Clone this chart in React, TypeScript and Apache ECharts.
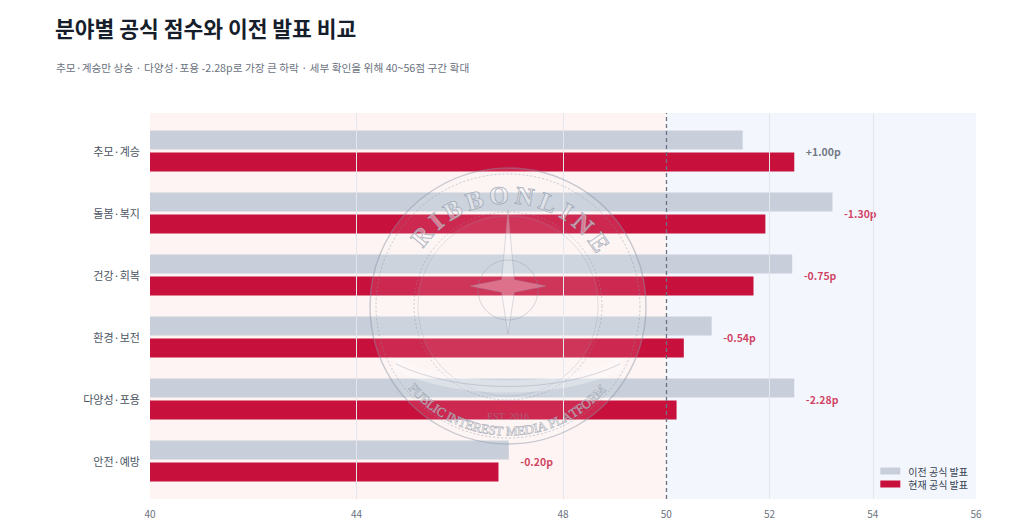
import React, { useEffect, useRef } from "react";
import * as echarts from "echarts";

const titleText = "분야별 공식 점수와 이전 발표 비교";
const subtitleText = "추모·계승만 상승 · 다양성·포용 -2.28p로 가장 큰 하락 · 세부 확인을 위해 40~56점 구간 확대";
const categories = ["추모·계승", "돌봄·복지", "건강·회복", "환경·보전", "다양성·포용", "안전·예방"];
const previousScores = [51.48, 53.22, 52.44, 50.88, 52.48, 46.95];
const currentScores = [52.48, 51.92, 51.69, 50.34, 50.2, 46.75];
const seriesNames = ["이전 공식 발표", "현재 공식 발표"];
const xTickLabels = [40, 44, 48, 50, 52, 54, 56];
const gridLineValues = [44, 48, 52, 54];
const baselineValue = 50;
const axisMin = 40;
const axisMax = 56;

const FONT = '"Noto Sans CJK KR", "Noto Sans", sans-serif';
const SERIF = '"Liberation Serif", "DejaVu Serif", serif';
const RED = "#c8103c";
const GRAY_BAR = "#c8ceda";

function measureChars(text: string, font: string): number[] {
  const canvas = document.createElement("canvas");
  const ctx = canvas.getContext("2d");
  if (!ctx) return text.split("").map(() => 10);
  ctx.font = font;
  return text.split("").map((c) => ctx.measureText(c).width);
}

function arcText(
  text: string,
  cx: number,
  cy: number,
  r: number,
  firstDeg: number,
  lastDeg: number,
  fontSize: number,
  bold: boolean,
  top: boolean,
  style: any
) {
  const font = (bold ? "bold " : "") + fontSize + "px " + SERIF;
  const w = measureChars(text, font);
  const n = text.length;
  let inner = 0;
  for (let i = 0; i < n; i++) inner += w[i];
  inner -= w[0] / 2 + w[n - 1] / 2;
  const target = (Math.abs(lastDeg - firstDeg) * Math.PI * r) / 180;
  const spacing = (target - inner) / (n - 1);
  const out: any[] = [];
  let s = 0;
  for (let i = 0; i < n; i++) {
    if (i > 0) s += w[i - 1] / 2 + spacing + w[i] / 2;
    if (text[i] === " ") continue;
    const deg = top ? firstDeg + (s / r) * (180 / Math.PI) : firstDeg - (s / r) * (180 / Math.PI);
    const th = (deg * Math.PI) / 180;
    out.push({
      type: "text",
      z: 100,
      silent: true,
      x: cx + r * Math.cos(th),
      y: cy + r * Math.sin(th),
      rotation: top ? (-(deg + 90) * Math.PI) / 180 : ((90 - deg) * Math.PI) / 180,
      style: {
        text: text[i],
        fontSize,
        fontFamily: SERIF,
        fontWeight: bold ? "bold" : "normal",
        align: "center",
        verticalAlign: "middle",
        ...style,
      },
    });
  }
  return out;
}

function buildWatermark() {
  const cx = 508;
  const cy = 306;
  const wm = "#8a93a3";
  const Z = 100;
  const els: any[] = [];
  els.push({ type: "circle", z: Z, silent: true, shape: { cx, cy, r: 138 }, style: { fill: "#ffffff", opacity: 0.1 } });
  els.push({ type: "circle", z: Z, silent: true, shape: { cx, cy, r: 92 }, style: { fill: "#ffffff", opacity: 0.06 } });
  els.push({ type: "circle", z: Z, silent: true, shape: { cx, cy, r: 138 }, style: { fill: "none", stroke: wm, lineWidth: 1.4, opacity: 0.45 } });
  els.push({ type: "circle", z: Z, silent: true, shape: { cx, cy, r: 132 }, style: { fill: "none", stroke: wm, lineWidth: 1, lineDash: [2, 2], opacity: 0.45 } });
  els.push({ type: "circle", z: Z, silent: true, shape: { cx, cy, r: 94 }, style: { fill: "none", stroke: wm, lineWidth: 1, lineDash: [2, 2], opacity: 0.4 } });
  els.push({ type: "circle", z: Z, silent: true, shape: { cx, cy, r: 90 }, style: { fill: "none", stroke: wm, lineWidth: 0.8, opacity: 0.3 } });
  const letterStyle = { fill: "rgba(255,255,255,0.5)", stroke: wm, lineWidth: 1, opacity: 0.8 };
  els.push(...arcText("RIBBONLINE", cx, cy, 111, -141, -35, 25, true, true, letterStyle));
  els.push(
    ...arcText("PUBLIC INTEREST MEDIA PLATFORM", cx, cy, 125, 139, 43, 13, false, false, {
      fill: "rgba(255,255,255,0.45)",
      stroke: wm,
      lineWidth: 0.7,
      opacity: 0.75,
    })
  );
  els.push({
    type: "text",
    z: Z,
    silent: true,
    x: cx,
    y: cy + 110,
    style: { text: "EST. 2016", fontSize: 10, fontFamily: SERIF, fill: wm, opacity: 0.5, align: "center", verticalAlign: "middle" },
  });
  const sx = cx;
  const sy = cy - 20;
  const pts: number[][] = [];
  const radii = [76, 9, 38, 9, 48, 9, 38, 9];
  for (let k = 0; k < 8; k++) {
    const a = -Math.PI / 2 + (k * Math.PI) / 4;
    pts.push([sx + radii[k] * Math.cos(a), sy + radii[k] * Math.sin(a)]);
  }
  els.push({ type: "polygon", z: Z, silent: true, shape: { points: pts }, style: { fill: "#ffffff", stroke: wm, lineWidth: 1, opacity: 0.3 } });
  els.push({ type: "circle", z: Z, silent: true, shape: { cx: sx, cy: sy + 4, r: 30 }, style: { fill: "none", stroke: wm, lineWidth: 1, opacity: 0.35 } });
  els.push({
    type: "bezierCurve",
    z: Z,
    silent: true,
    shape: { x1: cx - 112, y1: cy + 58, x2: cx + 112, y2: cy + 58, cpx1: cx - 50, cpy1: cy + 88, cpx2: cx + 50, cpy2: cy + 88 },
    style: { fill: "none", stroke: "#ffffff", lineWidth: 12, opacity: 0.3 },
  });
  els.push({
    type: "bezierCurve",
    z: Z,
    silent: true,
    shape: { x1: cx - 112, y1: cy + 58, x2: cx + 112, y2: cy + 58, cpx1: cx - 50, cpy1: cy + 88, cpx2: cx + 50, cpy2: cy + 88 },
    style: { fill: "none", stroke: wm, lineWidth: 1, opacity: 0.35 },
  });
  return els;
}

export default function App() {
  const ref = useRef<HTMLDivElement>(null);
  useEffect(() => {
    document.body.style.margin = "0";
    if (!ref.current) return;
    const chart = echarts.init(ref.current, undefined, { renderer: "svg" });
    const deltas = categories.map((_, i) => Math.round((currentScores[i] - previousScores[i]) * 100) / 100);
    const deltaLabels = deltas.map((d) => (d > 0 ? "+" : "") + d.toFixed(2) + "p");
    const option: any = {
      animation: false,
      backgroundColor: "#ffffff",
      textStyle: { fontFamily: FONT },
      title: [
        { text: titleText, left: 50, top: 12, textStyle: { fontSize: 21.5, fontWeight: "bold", color: "#161d2b", fontFamily: FONT } },
        { text: subtitleText, left: 51, top: 57, textStyle: { fontSize: 10.7, fontWeight: "normal", color: "#6b7280", fontFamily: FONT } },
      ],
      legend: {
        data: seriesNames,
        orient: "vertical",
        right: 51,
        top: 461,
        itemWidth: 20,
        itemHeight: 7,
        itemGap: 3,
        icon: "rect",
        textStyle: { fontSize: 10, color: "#374151", fontFamily: FONT, padding: [0, 0, 0, 3] },
      },
      grid: [
        { left: 150, right: 48, top: 113, bottom: 25 },
        { left: 150, right: 48, top: 120, bottom: 32 },
      ],
      xAxis: [
        {
          type: "value",
          gridIndex: 0,
          min: axisMin,
          max: axisMax,
          interval: 2,
          axisLine: { show: false },
          axisTick: { show: false },
          splitLine: { show: false },
          axisLabel: {
            color: "#6b7280",
            fontSize: 10,
            margin: 9,
            fontFamily: FONT,
            formatter: (v: number) => (xTickLabels.indexOf(v) >= 0 ? String(v) : ""),
          },
        },
        { type: "value", gridIndex: 1, min: axisMin, max: axisMax, show: false },
      ],
      yAxis: [
        { type: "value", gridIndex: 0, min: 0, max: 1, show: false },
        {
          type: "category",
          gridIndex: 1,
          data: categories,
          inverse: true,
          axisLine: { show: false },
          axisTick: { show: false },
          splitLine: { show: false },
          axisLabel: { color: "#4b5563", fontSize: 11, margin: 10, fontFamily: FONT },
        },
      ],
      series: [
        {
          type: "line",
          xAxisIndex: 0,
          yAxisIndex: 0,
          data: [],
          silent: true,
          z: 0,
          markArea: {
            silent: true,
            data: [
              [{ xAxis: axisMin, itemStyle: { color: "#fdf4f3" } }, { xAxis: baselineValue }],
              [{ xAxis: baselineValue, itemStyle: { color: "#f3f7fd" } }, { xAxis: axisMax }],
            ],
          },
          markLine: {
            silent: true,
            symbol: ["none", "none"],
            label: { show: false },
            data: [
              ...gridLineValues.map((v) => ({ xAxis: v, lineStyle: { color: "#e3e6eb", width: 1, type: "solid" } })),
              { xAxis: baselineValue, lineStyle: { color: "#6b7280", width: 1.3, type: [4, 3] } },
            ],
          },
        },
        {
          name: seriesNames[0],
          type: "bar",
          xAxisIndex: 1,
          yAxisIndex: 1,
          data: previousScores,
          barWidth: 19,
          barGap: "16%",
          itemStyle: { color: GRAY_BAR },
        },
        {
          name: seriesNames[1],
          type: "bar",
          xAxisIndex: 1,
          yAxisIndex: 1,
          data: currentScores,
          barWidth: 19,
          barGap: "16%",
          itemStyle: { color: RED },
        },
        {
          type: "scatter",
          xAxisIndex: 1,
          yAxisIndex: 1,
          silent: true,
          symbolSize: 1,
          itemStyle: { color: "rgba(0,0,0,0)" },
          data: categories.map((_, i) => ({
            value: [Math.max(previousScores[i], currentScores[i]), i],
            label: { color: deltas[i] >= 0 ? "#4b5563" : RED },
          })),
          label: {
            show: true,
            position: "right",
            distance: 11,
            fontSize: 10.5,
            fontWeight: "bold",
            fontFamily: FONT,
            formatter: (p: any) => deltaLabels[p.dataIndex],
          },
        },
      ],
      graphic: { elements: buildWatermark() },
    };
    chart.setOption(option);
    return () => chart.dispose();
  }, []);
  return <div ref={ref} style={{ width: 1024, height: 524 }} />;
}
